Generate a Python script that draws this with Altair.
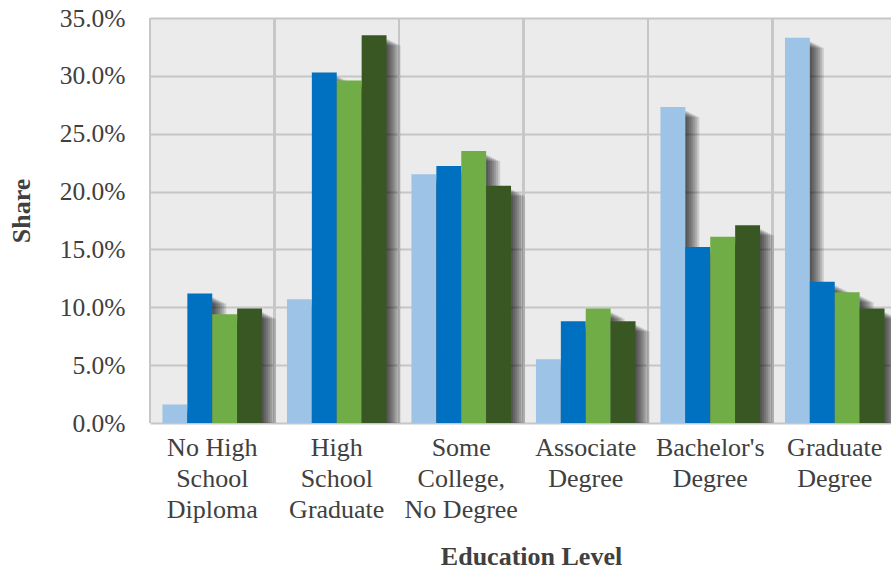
import altair as alt
import pandas as pd

# Education levels (line breaks marked with "|")
categories = [
    "No High|School|Diploma",
    "High|School|Graduate",
    "Some|College,|No Degree",
    "Associate|Degree",
    "Bachelor's|Degree",
    "Graduate|Degree",
]

# Four groups, share of each group by education level (percent)
series_names = ["Group 1", "Group 2", "Group 3", "Group 4"]
group_1 = [1.6, 10.7, 21.5, 5.5, 27.3, 33.3]
group_2 = [11.2, 30.3, 22.2, 8.8, 15.2, 12.2]
group_3 = [9.4, 29.6, 23.5, 9.9, 16.1, 11.3]
group_4 = [9.9, 33.5, 20.5, 8.8, 17.1, 9.9]
series_colors = ["#9DC3E6", "#0070C0", "#70AD47", "#385723"]

y_ticks = [0, 0.05, 0.10, 0.15, 0.20, 0.25, 0.30, 0.35]

rows = []
for name, vals in zip(series_names, [group_1, group_2, group_3, group_4]):
    for cat, v in zip(categories, vals):
        rows.append({"category": cat, "series": name, "value": v / 100})
df = pd.DataFrame(rows)

W, H = 741, 405
STEP = 124.5  # width of one education-level band
GRID = "#C6C6C6"
TEXT = "#404040"
FONT = "Liberation Serif"

x_enc = alt.X(
    "category:N",
    sort=categories,
    scale=alt.Scale(domain=categories, range=[0, STEP * len(categories)], paddingInner=0, paddingOuter=0),
    axis=alt.Axis(
        title="Education Level",
        labelExpr="split(datum.label, '|')",
        labelFont=FONT,
        labelColor=TEXT,
        labelFontSize=26,
        labelLineHeight=31,
        labelAlign="center",
        labelBaseline="top",
        labelPadding=11,
        labelAngle=0,
        labelOverlap=False,
        labelLimit=300,
        ticks=False,
        domain=False,
        grid=False,
        titleFont=FONT,
        titleColor=TEXT,
        titleFontSize=26,
        titleFontWeight="bold",
        titleX=381,
        titleY=141,
        titleBaseline="alphabetic",
    ),
)


def xoff_enc(shift=0):
    return alt.XOffset(
        "series:N",
        sort=series_names,
        scale=alt.Scale(
            domain=series_names,
            range=[shift, STEP + shift],
            paddingInner=0,
            paddingOuter=0.5,
        ),
    )


y_enc = alt.Y(
    "value:Q",
    scale=alt.Scale(domain=[0, 0.35], nice=False),
    axis=alt.Axis(
        title="Share",
        format=".1%",
        values=y_ticks,
        labelFont=FONT,
        labelColor=TEXT,
        labelFontSize=25.5,
        labelPadding=25,
        ticks=False,
        domain=False,
        gridColor=GRID,
        gridWidth=2,
        titleFont=FONT,
        titleColor=TEXT,
        titleFontSize=26,
        titleFontWeight="bold",
        titleX=-120.5,
        titleY=192.5,
        titleBaseline="alphabetic",
    ),
)

base = alt.Chart(df)

# vertical separators at category boundaries
separators = base.mark_rule(color=GRID, strokeWidth=2).encode(
    x=alt.X("category:N", sort=categories, bandPosition=0),
    y=alt.value(0),
    y2=alt.value(H),
)

# soft drop shadow built from stacked translucent offsets, clipped at the baseline
shadow_layers = []
for dx, dy in [(2, 4), (4, 5), (6, 6), (8, 7), (10, 8), (12, 9), (14, 10)]:
    shadow_layers.append(
        base.mark_bar(color="#000000", opacity=0.13, yOffset=dy, clip=True).encode(
            x=x_enc, xOffset=xoff_enc(dx), y=y_enc
        )
    )

bars = base.mark_bar().encode(
    x=x_enc,
    xOffset=xoff_enc(0),
    y=y_enc,
    color=alt.Color(
        "series:N",
        scale=alt.Scale(domain=series_names, range=series_colors),
        legend=None,
    ),
)

chart = (
    alt.layer(separators, *shadow_layers, bars)
    .resolve_scale(xOffset="independent")
    .properties(
        width=W,
        height=H,
        autosize="none",
        padding={"left": 150, "top": 18, "right": 0, "bottom": 144},
        background="#FFFFFF",
    )
    .configure_view(fill="#EBEBEB", strokeWidth=0)
    .configure_axis(
        labelFont=FONT,
        titleFont=FONT,
        labelColor=TEXT,
        titleColor=TEXT,
    )
)

chart.save("out.html", embed_options={"renderer": "svg", "actions": False})
